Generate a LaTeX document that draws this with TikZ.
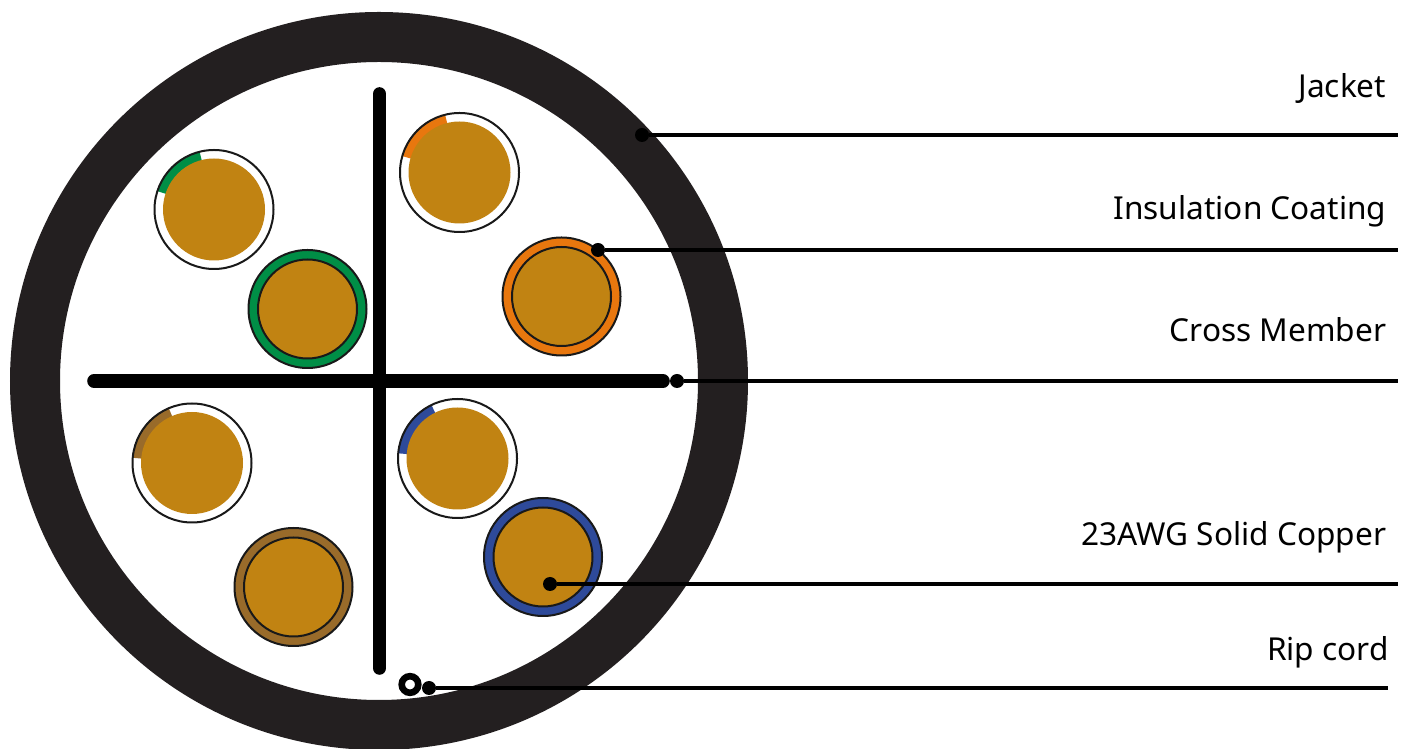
\documentclass[tikz,border=0pt]{standalone}
\usepackage{fontspec}
\setmainfont{Noto Sans}
\usepackage{xcolor}
\definecolor{jacketgray}{RGB}{35,31,32}
\definecolor{coppercol}{RGB}{193,131,18}
\definecolor{wiregreen}{RGB}{0,142,70}
\definecolor{wireorange}{RGB}{232,119,14}
\definecolor{wirebrown}{RGB}{153,107,42}
\definecolor{wireblue}{RGB}{46,74,154}
\tikzset{
    crossbar/.style={line width=6.8pt, line cap=round, draw=black},
    leader/.style={line width=1.7pt, draw=black},
    leaderdot/.style={circle, fill=black, draw=none, minimum size=7pt, inner sep=0pt},
    partlabel/.style={anchor=base east, inner sep=0pt, font=\fontsize{15.8}{18}\selectfont, text=black},
    wireline/.style={draw=black!90, line width=1pt},
}

\begin{document}
\begin{tikzpicture}[x=0.5pt, y=0.5pt]
            \useasboundingbox (0,0) rectangle (1402,749);

            % jacket
            \draw[jacketgray, line width=25pt] (379,368) circle (344);

            % cross member
            \draw[crossbar] (379.5,655) -- (379.5,81);
            \draw[crossbar] (94,368) -- (663,368);

            % striped wires
            \foreach \cx/\cy/\wirecol/\starta/\enda in {
                214/539.5/wiregreen/104/162,
                459.5/576.5/wireorange/104/164,
                192/286/wirebrown/113/175,
                457.5/290.5/wireblue/116/175} {
                \fill[white] (\cx,\cy) circle (59.5);
                \fill[\wirecol, shift={(\cx,\cy)}] (\starta:50) arc[start angle=\starta, end angle=\enda, radius=50]
                -- (\enda:60) arc[start angle=\enda, end angle=\starta, radius=60] -- cycle;
                \fill[coppercol] (\cx,\cy) circle (51);
                \draw[wireline] (\cx,\cy) circle (59.5);
            }

            % solid wires
            \foreach \cx/\cy/\wirecol in {
                307.5/440/wiregreen,
                561.5/452.5/wireorange,
                293.5/162/wirebrown,
                543/192/wireblue} {
                \draw[wireline, fill=\wirecol] (\cx,\cy) circle (59);
                \draw[wireline, fill=coppercol] (\cx,\cy) circle (49.5);
            }

            % rip cord
            \draw[line width=3.3pt] (410,64.5) circle (8.3);

            % leader dots
            \node[leaderdot] (jacketdot) at (642,614) {};
            \node[leaderdot] (insuldot) at (598,499) {};
            \node[leaderdot] (crossdot) at (677,368) {};
            \node[leaderdot] (copperdot) at (550,165) {};
            \node[leaderdot] (ripdot) at (429,61) {};

            % leader ends
            \coordinate (jacketend) at (1398,614);
            \coordinate (insulend) at (1398,499);
            \coordinate (crossend) at (1398,368);
            \coordinate (copperend) at (1398,165);
            \coordinate (ripend) at (1388,61);
            \draw[leader] (jacketdot) -- (jacketend);
            \draw[leader] (insuldot) -- (insulend);
            \draw[leader] (crossdot) -- (crossend);
            \draw[leader] (copperdot) -- (copperend);
            \draw[leader] (ripdot) -- (ripend);

            % part labels
            \node[partlabel] (jacketlabel) at (1386.5,651) {Jacket};
            \node[partlabel] (insullabel) at (1386.5,529) {Insulation Coating};
            \node[partlabel] (crosslabel) at (1386.5,407) {Cross Member};
            \node[partlabel] (copperlabel) at (1386.5,203) {23AWG Solid Copper};
            \node[partlabel] (riplabel) at (1389,88) {Rip cord};
        \end{tikzpicture}
\end{document}
